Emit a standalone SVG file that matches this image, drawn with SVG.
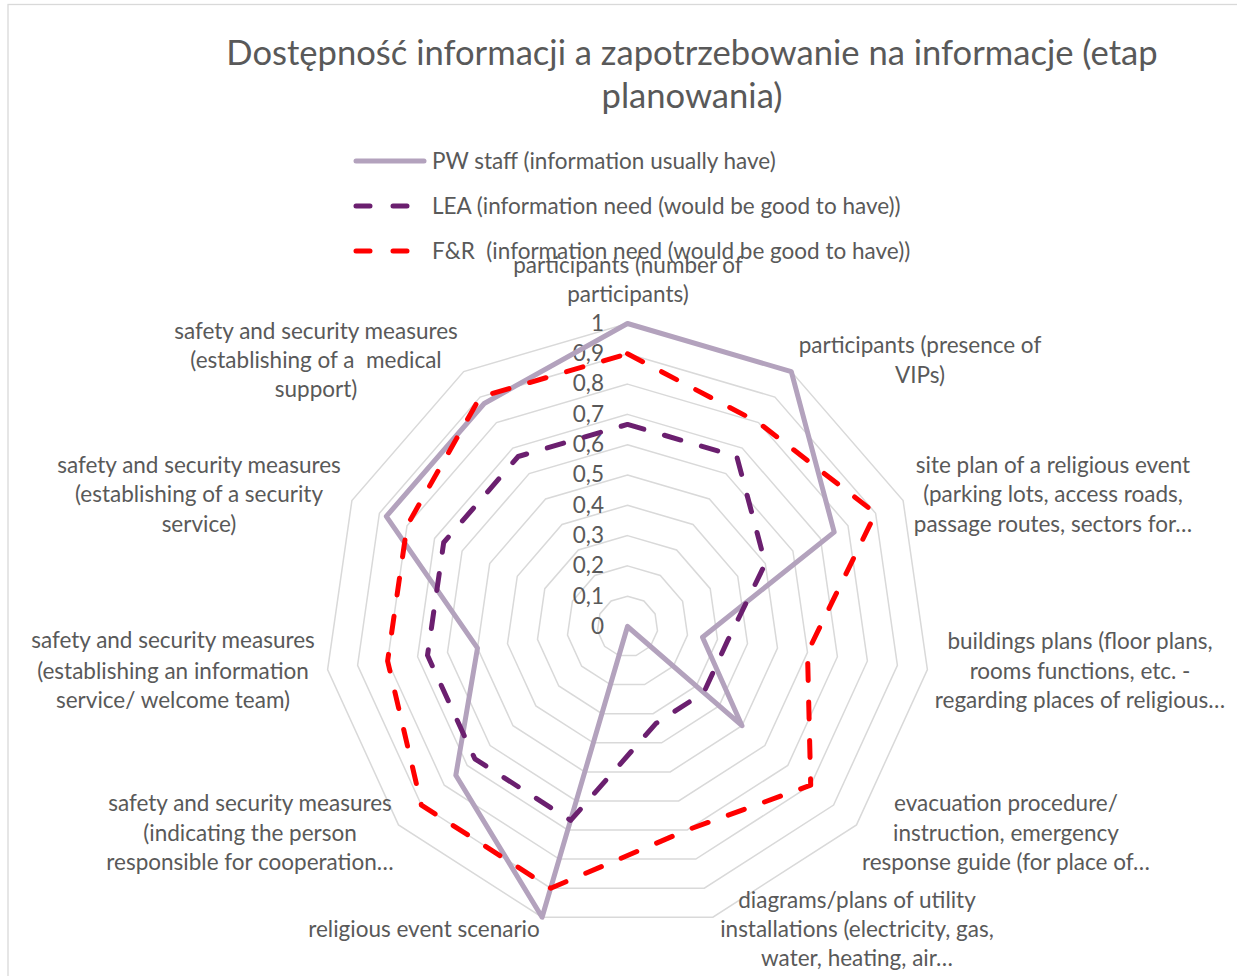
<svg xmlns="http://www.w3.org/2000/svg" width="1237" height="976" viewBox="0 0 1237 976">
<style>
.t{font-family:Lato,"Liberation Sans",sans-serif;fill:#595959;font-size:22.5px}
.title{font-size:34.6px;text-anchor:middle}
.m{text-anchor:middle}
.v{text-anchor:end}
.grid{fill:none;stroke:#d9d9d9;stroke-width:1.5}
.pw{fill:none;stroke:#b3a2bd;stroke-width:5;stroke-linejoin:round;stroke-linecap:round}
.lea{fill:none;stroke:#6b1f6f;stroke-width:5;stroke-linejoin:round;stroke-linecap:round;stroke-dasharray:17 21.5}
.fr{fill:none;stroke:#ff0000;stroke-width:5;stroke-linejoin:round;stroke-linecap:round;stroke-dasharray:17 21.5}
</style>
<rect x="8" y="4.5" width="1300" height="1000" fill="#ffffff" stroke="#d9d9d9" stroke-width="1.3"/>
<g id="title">
<text class="t title" x="692" y="65">Dostępność informacji a zapotrzebowanie na informacje (etap</text>
<text class="t title" x="692" y="108">planowania)</text>
</g>
<g id="grid" transform="translate(627.5 626.5)">
<polygon class="grid" points="0,-30.3 16.4,-25.5 27.6,-12.6 30.0,4.3 22.9,19.8 8.5,29.1 -8.5,29.1 -22.9,19.8 -30.0,4.3 -27.6,-12.6 -16.4,-25.5"/>
<polygon class="grid" points="0,-60.6 32.8,-51.0 55.1,-25.2 60.0,8.6 45.8,39.7 17.1,58.1 -17.1,58.1 -45.8,39.7 -60.0,8.6 -55.1,-25.2 -32.8,-51.0"/>
<polygon class="grid" points="0,-90.9 49.1,-76.5 82.7,-37.8 90.0,12.9 68.7,59.5 25.6,87.2 -25.6,87.2 -68.7,59.5 -90.0,12.9 -82.7,-37.8 -49.1,-76.5"/>
<polygon class="grid" points="0,-121.2 65.5,-102.0 110.2,-50.3 120.0,17.2 91.6,79.4 34.1,116.3 -34.1,116.3 -91.6,79.4 -120.0,17.2 -110.2,-50.3 -65.5,-102.0"/>
<polygon class="grid" points="0,-151.5 81.9,-127.5 137.8,-62.9 150.0,21.6 114.5,99.2 42.7,145.4 -42.7,145.4 -114.5,99.2 -150.0,21.6 -137.8,-62.9 -81.9,-127.5"/>
<polygon class="grid" points="0,-181.8 98.3,-152.9 165.4,-75.5 180.0,25.9 137.4,119.1 51.2,174.4 -51.2,174.4 -137.4,119.1 -180.0,25.9 -165.4,-75.5 -98.3,-152.9"/>
<polygon class="grid" points="0,-212.1 114.7,-178.4 192.9,-88.1 209.9,30.2 160.3,138.9 59.8,203.5 -59.8,203.5 -160.3,138.9 -209.9,30.2 -192.9,-88.1 -114.7,-178.4"/>
<polygon class="grid" points="0,-242.4 131.0,-203.9 220.5,-100.7 239.9,34.5 183.2,158.7 68.3,232.6 -68.3,232.6 -183.2,158.7 -239.9,34.5 -220.5,-100.7 -131.0,-203.9"/>
<polygon class="grid" points="0,-272.7 147.4,-229.4 248.1,-113.3 269.9,38.8 206.1,178.6 76.8,261.7 -76.8,261.7 -206.1,178.6 -269.9,38.8 -248.1,-113.3 -147.4,-229.4"/>
<polygon class="grid" points="0,-303 163.8,-254.9 275.6,-125.9 299.9,43.1 229.0,198.4 85.4,290.7 -85.4,290.7 -229.0,198.4 -299.9,43.1 -275.6,-125.9 -163.8,-254.9"/>
</g>
<g id="value-axis">
<text class="t v" x="604" y="634">0</text>
<text class="t v" x="604" y="604">0,1</text>
<text class="t v" x="604" y="573">0,2</text>
<text class="t v" x="604" y="543">0,3</text>
<text class="t v" x="604" y="513">0,4</text>
<text class="t v" x="604" y="482">0,5</text>
<text class="t v" x="604" y="452">0,6</text>
<text class="t v" x="604" y="422">0,7</text>
<text class="t v" x="604" y="391">0,8</text>
<text class="t v" x="604" y="361">0,9</text>
<text class="t v" x="604" y="331">1</text>
</g>
<g id="series" transform="translate(627.5 626.5)">
<polygon id="series-pw" class="pw" points="0,-303 163.8,-254.9 206.7,-94.4 75.0,10.8 114.5,99.2 0,0 -85.4,290.7 -171.7,148.8 -150.0,21.6 -241.2,-110.1 -143.3,-223.0"/>
<polygon id="series-lea" class="lea" points="0,-202.1 109.3,-170.0 137.8,-62.9 100.0,14.4 76.3,66.1 28.5,96.9 -56.9,193.9 -152.7,132.3 -200.0,28.8 -183.8,-84.0 -109.3,-170.0"/>
<polygon id="series-fr" class="fr" points="0,-272.7 131.0,-203.9 248.1,-113.3 180.0,25.9 183.2,158.7 59.8,203.5 -76.8,261.7 -206.1,178.6 -239.9,34.5 -220.5,-100.7 -147.4,-229.4"/>
</g>
<g id="legend">
<line class="pw" x1="356" y1="161" x2="424" y2="161"/>
<text class="t" x="432" y="169">PW staff (information usually have)</text>
<line x1="356" y1="206" x2="424" y2="206" stroke="#6b1f6f" stroke-width="5" stroke-linecap="round" stroke-dasharray="14 23"/>
<text class="t" x="432" y="214">LEA (information need (would be good to have))</text>
<line x1="356" y1="251" x2="424" y2="251" stroke="#ff0000" stroke-width="5" stroke-linecap="round" stroke-dasharray="14 23"/>
<text class="t" x="432" y="259" xml:space="preserve">F&amp;R  (information need (would be good to have))</text>
</g>
<g id="label-k0"><text class="t m" x="628" y="273">participants (number of</text><text class="t m" x="628" y="302">participants)</text></g>
<g id="label-k1"><text class="t m" x="920" y="353">participants (presence of</text><text class="t m" x="920" y="383">VIPs)</text></g>
<g id="label-k2"><text class="t m" x="1053" y="473">site plan of a religious event</text><text class="t m" x="1053" y="502">(parking lots, access roads,</text><text class="t m" x="1053" y="532">passage routes, sectors for…</text></g>
<g id="label-k3"><text class="t m" x="1080" y="649">buildings plans (floor plans,</text><text class="t m" x="1080" y="679">rooms functions, etc. -</text><text class="t m" x="1080" y="708">regarding places of religious…</text></g>
<g id="label-k4"><text class="t m" x="1006" y="811">evacuation procedure/</text><text class="t m" x="1006" y="841">instruction, emergency</text><text class="t m" x="1006" y="870">response guide (for place of…</text></g>
<g id="label-k5"><text class="t m" x="857" y="908">diagrams/plans of utility</text><text class="t m" x="857" y="937">installations (electricity, gas,</text><text class="t m" x="857" y="966">water, heating, air…</text></g>
<g id="label-k6"><text class="t m" x="424" y="937">religious event scenario</text></g>
<g id="label-k7"><text class="t m" x="250" y="811">safety and security measures</text><text class="t m" x="250" y="841">(indicating the person</text><text class="t m" x="250" y="870">responsible for cooperation…</text></g>
<g id="label-k8"><text class="t m" x="173" y="648">safety and security measures</text><text class="t m" x="173" y="679">(establishing an information</text><text class="t m" x="173" y="708">service/ welcome team)</text></g>
<g id="label-k9"><text class="t m" x="199" y="473">safety and security measures</text><text class="t m" x="199" y="502">(establishing of a security</text><text class="t m" x="199" y="532">service)</text></g>
<g id="label-k10"><text class="t m" x="316" y="339">safety and security measures</text><text class="t m" x="316" y="368" xml:space="preserve">(establishing of a  medical</text><text class="t m" x="316" y="397">support)</text></g>
</svg>
